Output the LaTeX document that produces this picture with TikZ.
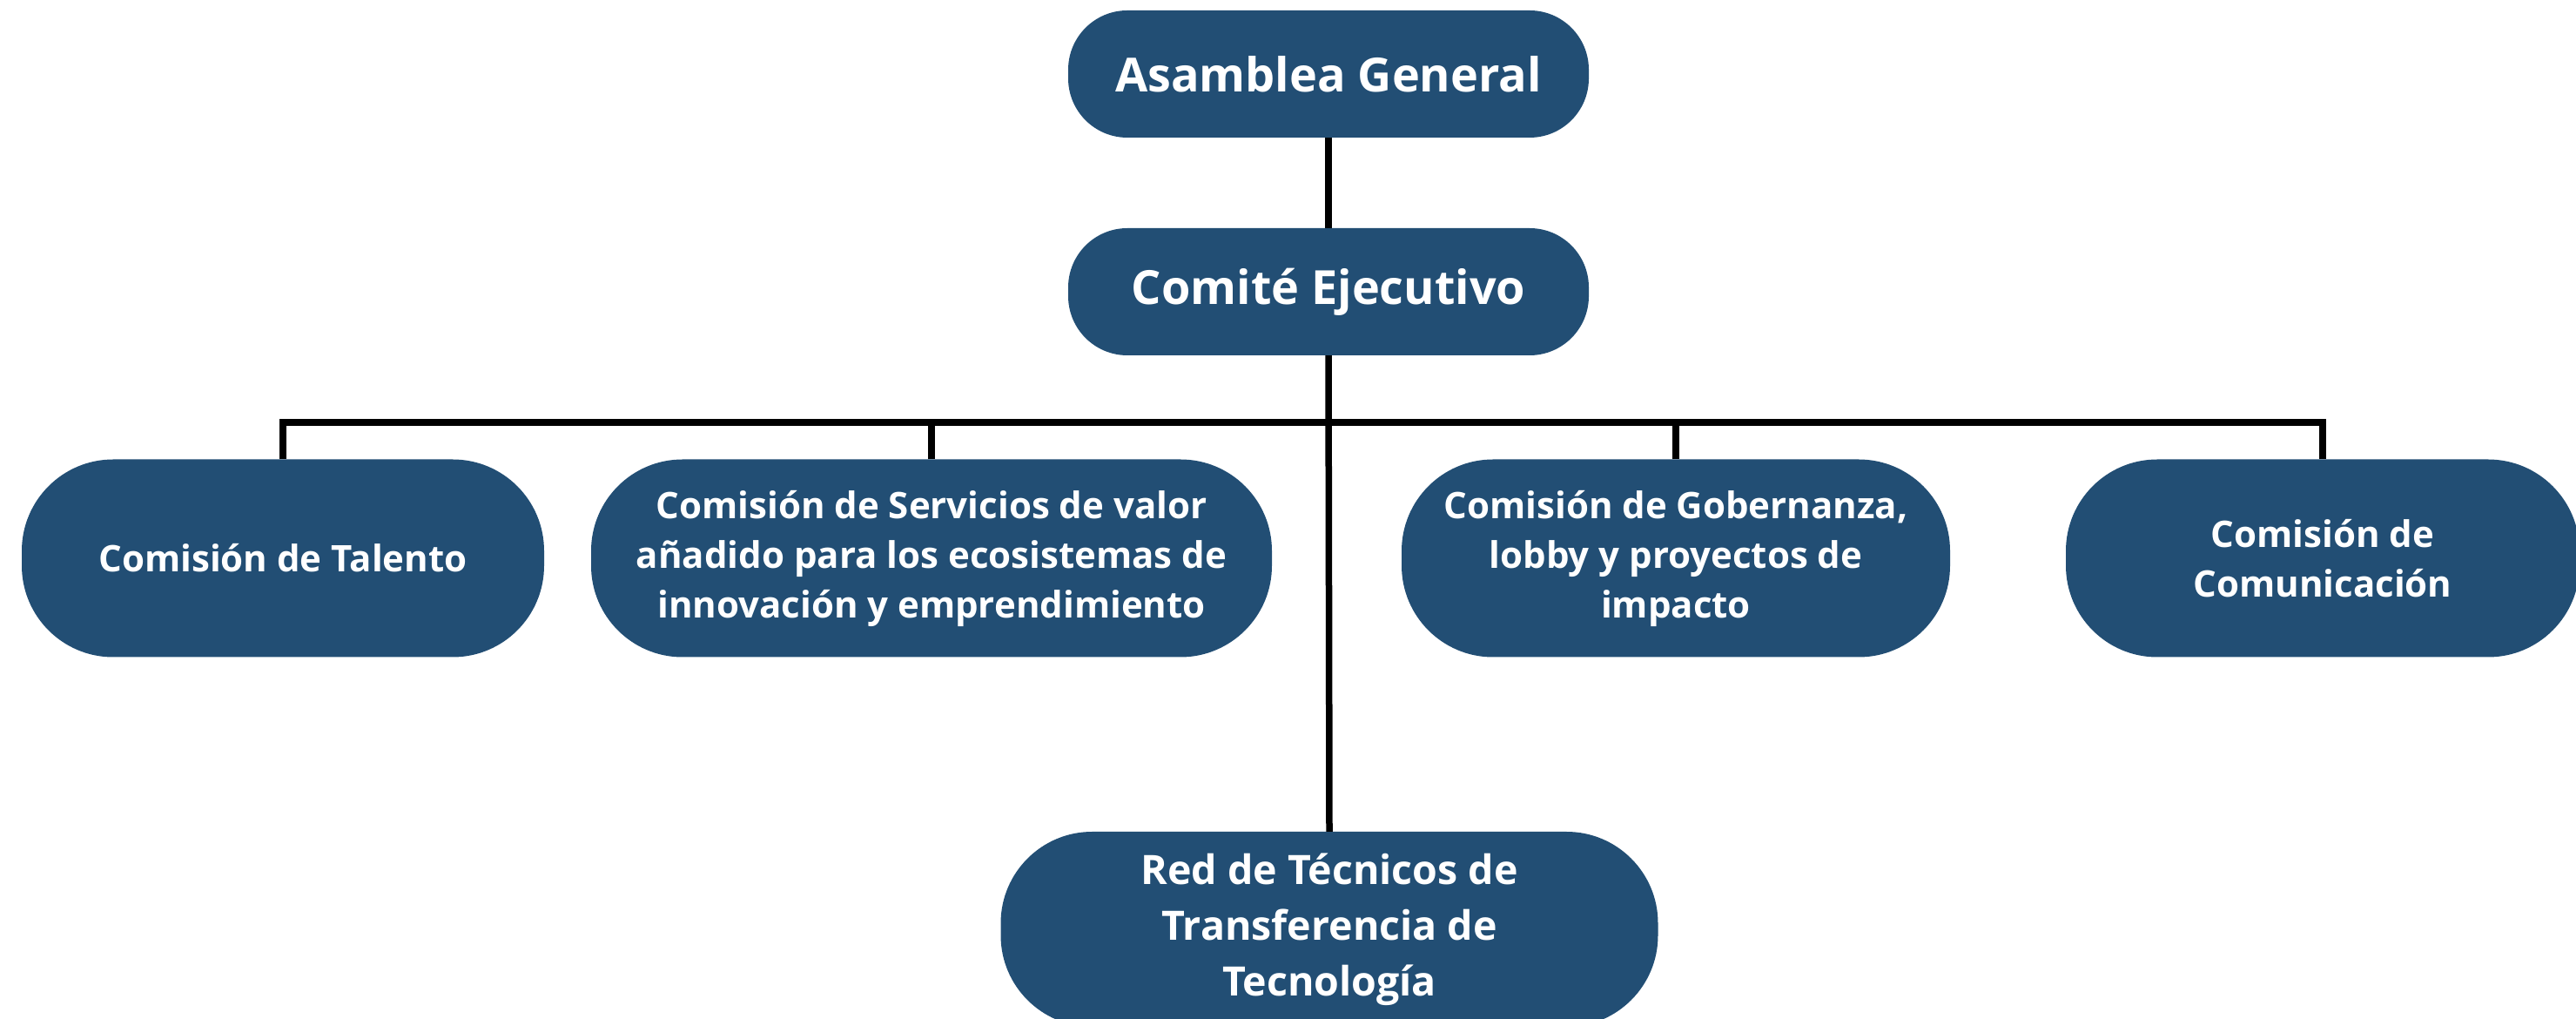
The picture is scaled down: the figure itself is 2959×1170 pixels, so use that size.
\documentclass[tikz,border=0pt]{standalone}
\usepackage{fontspec}
\setmainfont{Open Sans}
\definecolor{boxblue}{RGB}{34,78,116}
\begin{document}
\begin{tikzpicture}[x=1pt,y=1pt,
  topbox/.style={rectangle, rounded corners=68pt, fill=boxblue, text=white,
    font=\fontsize{54}{72}\selectfont\bfseries, align=center, inner sep=0pt,
    minimum width=598pt, minimum height=146pt},
  combox/.style={rectangle, rounded corners=105pt, fill=boxblue, text=white,
    font=\fontsize{42}{57}\selectfont\bfseries, align=center, inner sep=0pt,
    minimum height=227pt},
  redbox/.style={combox, font=\fontsize{46.5}{64}\selectfont\bfseries},
  conn/.style={draw=black, line width=7.5pt, line join=miter, line cap=butt}]
\useasboundingbox (0,0) rectangle (2959,1170);
\coordinate (bus) at (0,685);
\node[topbox] (asam) at (1526,1085) {Asamblea General};
\node[topbox] (comite) at (1526,835) {Comité Ejecutivo};
\node[combox, minimum width=600pt] (talento) at (325,529) {Comisión de Talento};
\node[combox, minimum width=782pt] (serv) at (1070,529) {Comisión de Servicios de valor\\añadido para los ecosistemas de\\innovación y emprendimiento};
\node[combox, minimum width=630pt] (gob) at (1925,529) {Comisión de Gobernanza,\\lobby y proyectos de\\impacto};
\node[combox, minimum width=590pt] (com) at (2668,529) {Comisión de\\Comunicación};
\node[redbox, minimum width=755pt, minimum height=224pt] (red) at (1527,103) {Red de Técnicos de\\Transferencia de\\Tecnología};
\draw[conn] (asam.south) -- (comite.north);
\draw[conn] (comite.south) -- (red.north);
\draw[conn] (talento.north) -- (talento.north |- bus) -- (com.north |- bus) -- (com.north);
\draw[conn] (serv.north) -- (serv.north |- bus);
\draw[conn] (gob.north) -- (gob.north |- bus);
\end{tikzpicture}
\end{document}
